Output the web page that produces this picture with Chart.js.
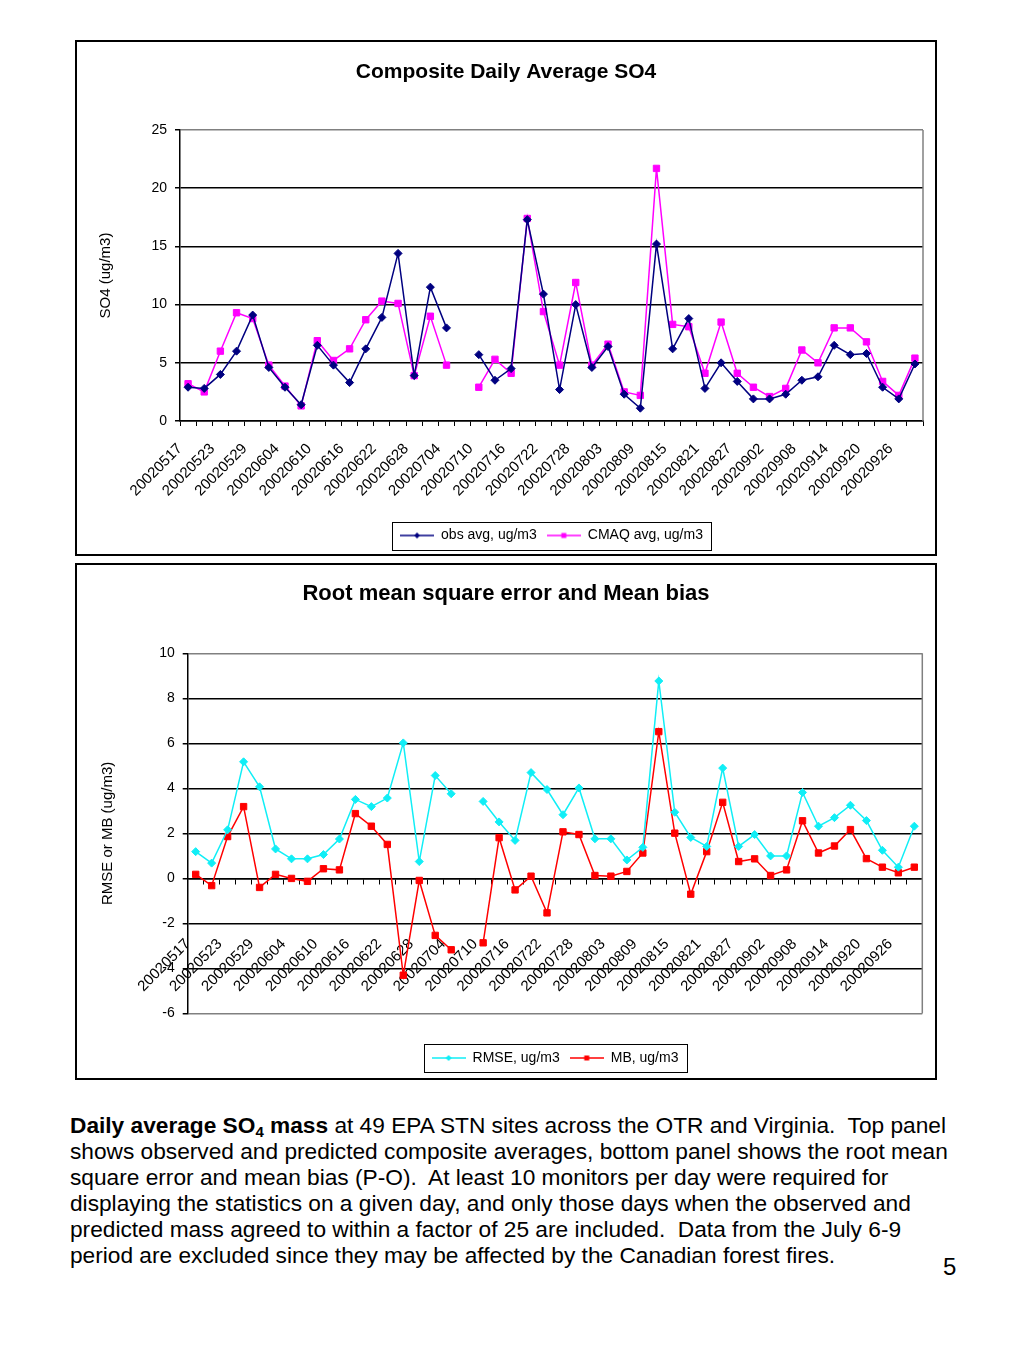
<!DOCTYPE html>
<html>
<head>
<meta charset="utf-8">
<title>Daily average SO4 mass</title>
<script src="https://cdn.jsdelivr.net/npm/chart.js"></script>
<style>
  body { margin: 0; background: #fff; font-family: "Liberation Sans", Arial, sans-serif; color: #000; }
  .page { position: relative; width: 1024px; height: 1365px; overflow: hidden; }
  .panel { position: absolute; left: 75px; width: 858px; border: 2px solid #000; background: #fff; }
  #top-panel { top: 40px; height: 512px; }
  #bottom-panel { top: 563px; height: 513px; }
  .panel canvas { display: block; }
  .caption { position: absolute; left: 70px; top: 1112px; font-size: 22.7px; line-height: 26px; white-space: nowrap; }
  .caption sub { font-size: 15px; vertical-align: -4px; line-height: 0; }
  .page-num { position: absolute; left: 943px; top: 1253px; font-size: 24px; }
</style>
</head>
<body>
<div class="page">
  <div class="panel" id="top-panel"><canvas id="so4Chart" width="858" height="512"></canvas></div>
  <div class="panel" id="bottom-panel"><canvas id="errChart" width="858" height="513"></canvas></div>
  <div class="caption">
    <b>Daily average SO<sub>4</sub> mass</b> at 49 EPA STN sites across the OTR and Virginia.&nbsp; Top panel<br>
    shows observed and predicted composite averages, bottom panel shows the root mean<br>
    square error and mean bias (P-O).&nbsp; At least 10 monitors per day were required for<br>
    displaying the statistics on a given day, and only those days when the observed and<br>
    predicted mass agreed to within a factor of 25 are included.&nbsp; Data from the July 6-9<br>
    period are excluded since they may be affected by the Canadian forest fires.
  </div>
  <div class="page-num">5</div>
</div>
<script>
// sampling days (every 3rd day); 20020707 is the excluded July 6-9 window
const dates = [
  "20020517", "20020520", "20020523", "20020526", "20020529", "20020601",
  "20020604", "20020607", "20020610", "20020613", "20020616", "20020619",
  "20020622", "20020625", "20020628", "20020701", "20020704", "20020707",
  "20020710", "20020713", "20020716", "20020719", "20020722", "20020725",
  "20020728", "20020731", "20020803", "20020806", "20020809", "20020812",
  "20020815", "20020818", "20020821", "20020824", "20020827", "20020830",
  "20020902", "20020905", "20020908", "20020911", "20020914", "20020917",
  "20020920", "20020923", "20020926", "20020929"
];

const obsAvg = [
  2.9, 2.8, 4.0, 6.0, 9.1, 4.6, 2.9, 1.4, 6.5, 4.8, 3.3, 6.2,
  8.9, 14.4, 3.9, 11.5, 8.0, null, 5.7, 3.5, 4.5, 17.3, 10.9, 2.7,
  10.0, 4.6, 6.4, 2.3, 1.1, 15.2, 6.2, 8.8, 2.8, 5.0, 3.4, 1.9,
  1.9, 2.3, 3.5, 3.8, 6.5, 5.7, 5.8, 2.9, 1.9, 4.9
];
const cmaqAvg = [
  3.2, 2.5, 6.0, 9.3, 8.8, 4.8, 3.0, 1.3, 6.9, 5.2, 6.2, 8.7,
  10.3, 10.1, 3.9, 9.0, 4.8, null, 2.9, 5.3, 4.1, 17.4, 9.4, 4.8,
  11.9, 4.8, 6.6, 2.5, 2.2, 21.7, 8.3, 8.1, 4.1, 8.5, 4.1, 2.9,
  2.1, 2.8, 6.1, 5.0, 8.0, 8.0, 6.8, 3.4, 2.2, 5.4
];

const rmse = [
  1.19, 0.68, 2.16, 5.18, 4.07, 1.31, 0.87, 0.87, 1.06, 1.75, 3.51, 3.19,
  3.57, 6.02, 0.75, 4.57, 3.76, null, 3.42, 2.51, 1.69, 4.70, 3.95, 2.83,
  4.02, 1.76, 1.76, 0.82, 1.38, 8.77, 2.94, 1.82, 1.42, 4.90, 1.42, 1.95,
  1.00, 1.00, 3.82, 2.32, 2.70, 3.25, 2.57, 1.25, 0.50, 2.32
];
const meanBias = [
  0.18, -0.32, 1.86, 3.19, -0.40, 0.18, 0.00, -0.13, 0.43, 0.38, 2.88, 2.32,
  1.51, -4.30, -0.09, -2.53, -3.17, null, -2.86, 1.81, -0.51, 0.10, -1.53, 2.07,
  1.95, 0.13, 0.10, 0.31, 1.13, 6.52, 2.01, -0.70, 1.19, 3.38, 0.75, 0.87,
  0.13, 0.38, 2.56, 1.13, 1.44, 2.17, 0.88, 0.50, 0.25, 0.50
];

const so4Ticks = [0, 5, 10, 15, 20, 25];
const errTicks = [-6, -4, -2, 0, 2, 4, 6, 8, 10];

Chart.defaults.font.family = '"Liberation Sans", Arial, sans-serif';
Chart.defaults.font.size = 14;
Chart.defaults.color = "#000";
Chart.defaults.animation = false;

// small line + marker sample, like the Excel legend keys
function legendIcon(color, shape) {
  const c = document.createElement("canvas");
  c.width = 34;
  c.height = 12;
  const g = c.getContext("2d");
  g.strokeStyle = color;
  g.lineWidth = 1.5;
  g.beginPath();
  g.moveTo(0, 6);
  g.lineTo(34, 6);
  g.stroke();
  g.fillStyle = color;
  g.beginPath();
  if (shape === "diamond") {
    g.moveTo(17, 3);
    g.lineTo(20, 6);
    g.lineTo(17, 9);
    g.lineTo(14, 6);
    g.closePath();
  } else {
    g.rect(14.5, 3.5, 5, 5);
  }
  g.fill();
  return c;
}

// gray plot-area edge on the right and a frame around the legend
const excelFrame = {
  id: "excelFrame",
  beforeDatasetsDraw(chart) {
    const { ctx, chartArea } = chart;
    ctx.save();
    ctx.strokeStyle = "#808080";
    ctx.lineWidth = 1.5;
    ctx.beginPath();
    ctx.moveTo(chartArea.right, chartArea.top);
    ctx.lineTo(chartArea.right, chartArea.bottom);
    ctx.stroke();
    ctx.restore();
  },
  afterDraw(chart) {
    const boxes = chart.legend && chart.legend.legendHitBoxes;
    if (!boxes || !boxes.length) return;
    const ctx = chart.ctx;
    const left = Math.min(...boxes.map((b) => b.left)) - 8;
    const right = Math.max(...boxes.map((b) => b.left + b.width)) + 8;
    const top = boxes[0].top - 7;
    const bottom = boxes[0].top + boxes[0].height + 7;
    ctx.save();
    ctx.strokeStyle = "#000";
    ctx.lineWidth = 1;
    ctx.strokeRect(Math.round(left) + 0.5, Math.round(top) + 0.5, Math.round(right - left), Math.round(bottom - top));
    ctx.restore();
  },
};

function legendOptions(icons) {
  return {
    position: "bottom",
    fullSize: false,
    labels: {
      usePointStyle: true,
      pointStyleWidth: 34,
      padding: 10,
      font: { size: 14 },
      generateLabels(chart) {
        const items = Chart.defaults.plugins.legend.labels.generateLabels(chart);
        items.forEach((item, i) => {
          item.pointStyle = icons[i];
        });
        return items;
      },
    },
  };
}

function dateTicks(padding) {
  return {
    autoSkip: false,
    minRotation: 45,
    maxRotation: 45,
    padding: padding,
    labelOffset: -8,
    font: { size: 15 },
    callback: function (value, index) {
      return index % 2 === 0 ? this.getLabelForValue(value) : "";
    },
  };
}

function gridColor(edges) {
  return (ctx) => (ctx.tick && edges.includes(ctx.tick.value) ? "#808080" : "#000");
}

// empty scale that only reserves room (keeps the title centred on the whole panel)
function spacer(axis, position, size) {
  return {
    type: axis === "x" ? "category" : "linear",
    axis: axis,
    position: position,
    grid: { display: false },
    border: { display: false },
    ticks: { display: false },
    afterFit(scale) {
      if (axis === "x") scale.height = size;
      else scale.width = size;
    },
  };
}

new Chart(document.getElementById("so4Chart"), {
  type: "line",
  data: {
    labels: dates,
    datasets: [
      {
        label: "obs avg, ug/m3",
        data: obsAvg,
        xAxisID: "x",
        yAxisID: "y",
        borderColor: "#000080",
        backgroundColor: "#000080",
        borderWidth: 1.5,
        pointStyle: "rectRot",
        pointRadius: 4,
        pointBorderWidth: 1,
        tension: 0,
      },
      {
        label: "CMAQ avg, ug/m3",
        data: cmaqAvg,
        xAxisID: "x",
        yAxisID: "y",
        borderColor: "#FF00FF",
        backgroundColor: "#FF00FF",
        borderWidth: 1.5,
        pointStyle: "rect",
        pointRadius: 4.5,
        pointBorderWidth: 1,
        tension: 0,
      },
    ],
  },
  options: {
    responsive: false,
    devicePixelRatio: 1,
    events: [],
    layout: { padding: { left: 0, right: 0, top: 0, bottom: 1.5 } },
    plugins: {
      title: {
        display: true,
        text: "Composite Daily Average SO4",
        font: { size: 21, weight: "bold" },
        padding: { top: 17.4, bottom: 45.4 },
      },
      legend: legendOptions([legendIcon("#000080", "diamond"), legendIcon("#FF00FF", "square")]),
      tooltip: { enabled: false },
    },
    scales: {
      x: {
        offset: true,
        grid: { offset: true, drawOnChartArea: false, tickLength: 5, color: "#000", lineWidth: 1 },
        border: { color: "#000", width: 1.5 },
        ticks: dateTicks(14),
        afterFit(scale) {
          scale.height = 97.5;
          scale.paddingLeft = 0;
          scale.paddingRight = 0;
        },
      },
      y: {
        min: 0,
        max: 25,
        afterBuildTicks(scale) {
          scale.ticks = so4Ticks.map((v) => ({ value: v }));
        },
        grid: { color: gridColor([25]), lineWidth: 1.5, tickLength: 5, tickColor: "#000" },
        border: { color: "#000", width: 1.5 },
        ticks: { padding: 8, font: { size: 14 } },
        title: { display: true, text: "SO4 (ug/m3)", font: { size: 15 }, padding: { top: 20, bottom: 0 } },
        afterFit(scale) {
          scale.width = 103;
        },
      },
      rightGap: spacer("y", "right", 12),
    },
  },
  plugins: [excelFrame],
});

new Chart(document.getElementById("errChart"), {
  type: "line",
  data: {
    labels: dates,
    datasets: [
      {
        label: "RMSE, ug/m3",
        data: rmse,
        xAxisID: "x",
        yAxisID: "y",
        borderColor: "#10EEF6",
        backgroundColor: "#10EEF6",
        borderWidth: 1.5,
        pointStyle: "rectRot",
        pointRadius: 4,
        pointBorderWidth: 1,
        tension: 0,
      },
      {
        label: "MB, ug/m3",
        data: meanBias,
        xAxisID: "x",
        yAxisID: "y",
        borderColor: "#FF0000",
        backgroundColor: "#FF0000",
        borderWidth: 1.5,
        pointStyle: "rect",
        pointRadius: 4.5,
        pointBorderWidth: 1,
        tension: 0,
      },
    ],
  },
  options: {
    responsive: false,
    devicePixelRatio: 1,
    events: [],
    layout: { padding: { left: 0, right: 0, top: 0, bottom: 3 } },
    plugins: {
      title: {
        display: true,
        text: "Root mean square error and Mean bias",
        font: { size: 22, weight: "bold" },
        padding: { top: 15.8, bottom: 46.1 },
      },
      legend: legendOptions([legendIcon("#10EEF6", "diamond"), legendIcon("#FF0000", "square")]),
      tooltip: { enabled: false },
    },
    scales: {
      x: {
        position: { y: 0 },
        offset: true,
        grid: { offset: true, drawOnChartArea: false, tickLength: 5, color: "#000", lineWidth: 1 },
        border: { color: "#000", width: 1.5 },
        ticks: dateTicks(52),
        afterFit(scale) {
          scale.paddingLeft = 0;
          scale.paddingRight = 0;
        },
      },
      y: {
        min: -6,
        max: 10,
        afterBuildTicks(scale) {
          scale.ticks = errTicks.map((v) => ({ value: v }));
        },
        grid: { color: gridColor([-6, 10]), lineWidth: 1.5, tickLength: 5, tickColor: "#000" },
        border: { color: "#000", width: 1.5 },
        ticks: { padding: 8, font: { size: 14 } },
        title: { display: true, text: "RMSE or MB (ug/m3)", font: { size: 15 }, padding: { top: 22, bottom: 0 } },
        afterFit(scale) {
          scale.width = 110.7;
        },
      },
      bottomGap: spacer("x", "bottom", 27.5),
      rightGap: spacer("y", "right", 12.7),
    },
  },
  plugins: [excelFrame],
});
</script>
</body>
</html>
